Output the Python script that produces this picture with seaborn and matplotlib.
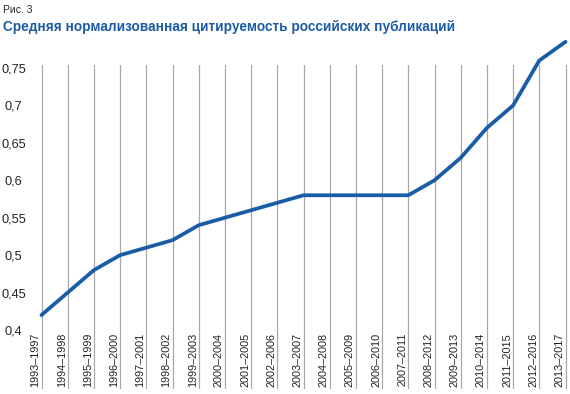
import matplotlib
matplotlib.use("Agg")
import matplotlib.pyplot as plt
import matplotlib.transforms as mtransforms
import seaborn as sns
import pandas as pd

periods = ["1993–1997", "1994–1998", "1995–1999", "1996–2000", "1997–2001",
           "1998–2002", "1999–2003", "2000–2004", "2001–2005", "2002–2006",
           "2003–2007", "2004–2008", "2005–2009", "2006–2010", "2007–2011",
           "2008–2012", "2009–2013", "2010–2014", "2011–2015", "2012–2016",
           "2013–2017"]
values = [0.42, 0.45, 0.48, 0.50, 0.51, 0.52, 0.54, 0.55, 0.56, 0.57,
          0.58, 0.58, 0.58, 0.58, 0.58, 0.60, 0.63, 0.67, 0.70, 0.76, 0.785]
ytick_vals = [0.4, 0.45, 0.5, 0.55, 0.6, 0.65, 0.7, 0.75]
ytick_labels = ["0,4", "0,45", "0,5", "0,55", "0,6", "0,65", "0,7", "0,75"]

sns.set_theme(style="white")
plt.rcParams['font.family'] = ['Liberation Sans Narrow', 'Liberation Sans', 'DejaVu Sans']

df = pd.DataFrame({"x": range(len(periods)), "y": values})

fig = plt.figure(figsize=(5.70, 3.94), dpi=100)
W, H = 570, 394
ax = fig.add_axes([41.5 / W, 1 - 330 / H, (565.5 - 41.5) / W, (330 - 65) / H])

blue = "#1a5ca6"
for i in range(len(periods)):
    ax.axvline(i, ymin=-0.22, ymax=1.0, color="#a8a8a8", lw=0.9, clip_on=False, zorder=1)

sns.lineplot(data=df, x="x", y="y", ax=ax, color=blue, linewidth=2.7,
             clip_on=False, zorder=3)

ax.set_xlim(0, len(periods) - 1)
ax.set_ylim(0.4, 0.754)
ax.set_xticks(range(len(periods)))
ax.set_xticklabels(periods, rotation=90, fontsize=7.8, color="#222222")
ax.set_yticks(ytick_vals)
ax.set_yticklabels(ytick_labels, fontsize=9.2, color="#222222", ha="center")
ax.tick_params(axis="x", length=0, pad=2)
ax.tick_params(axis="y", length=0, pad=20)
off = mtransforms.ScaledTranslation(-6 / 100, 0, fig.dpi_scale_trans)
for lbl in ax.get_xticklabels():
    lbl.set_transform(lbl.get_transform() + off)

ax.set_xlabel("")
ax.set_ylabel("")
for s in ax.spines.values():
    s.set_visible(False)
ax.grid(False)

fig.text(3 / W, 1 - 10 / H, "Рис. 3", fontsize=7.5, color="#222222", va="center", ha="left")
fig.text(3 / W, 1 - 27 / H, "Средняя нормализованная цитируемость российских публикаций",
         fontsize=9.8, fontweight="bold", color=blue, va="center", ha="left",
         family=['Liberation Sans', 'DejaVu Sans'])

fig.savefig("out.png", dpi=100)
